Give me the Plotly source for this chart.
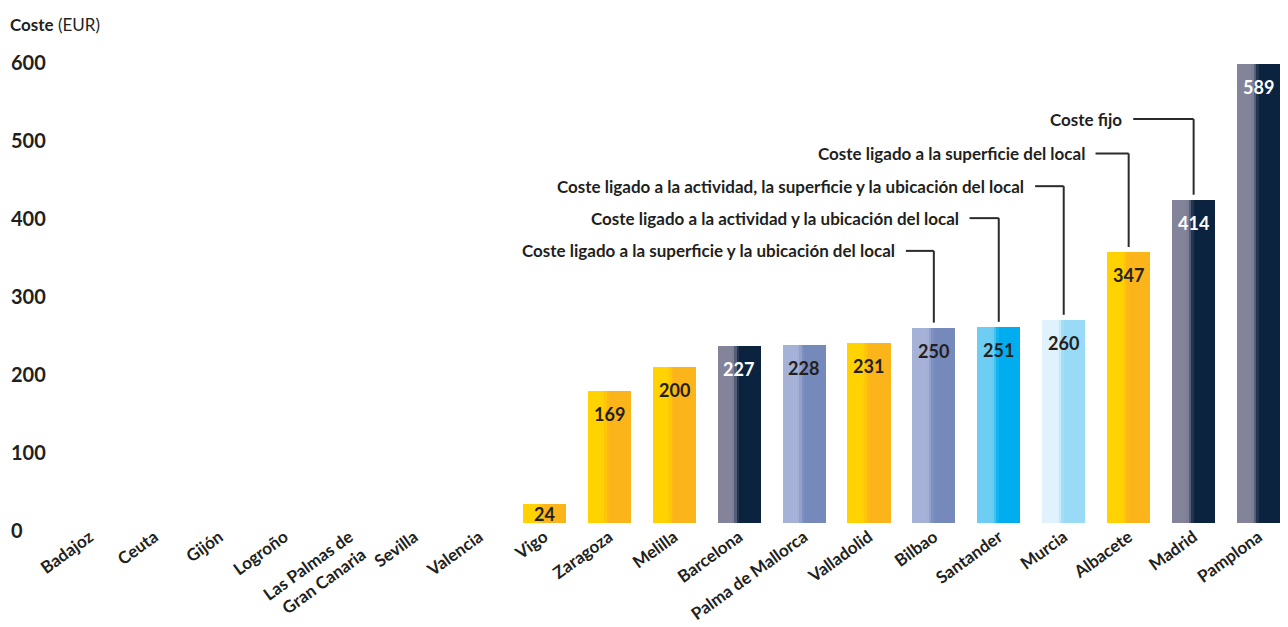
import plotly.graph_objects as go

# data
cities = ['Badajoz', 'Ceuta', 'Gijón', 'Logroño', 'Las Palmas de<br>Gran Canaria', 'Sevilla',
          'Valencia', 'Vigo', 'Zaragoza', 'Melilla', 'Barcelona', 'Palma de Mallorca',
          'Valladolid', 'Bilbao', 'Santander', 'Murcia', 'Albacete', 'Madrid', 'Pamplona']
coste = [0, 0, 0, 0, 0, 0, 0, 24, 169, 200, 227, 228, 231, 250, 251, 260, 347, 414, 589]
tipo = ['', '', '', '', '', '', '', 'sup', 'sup', 'sup', 'fijo', 'sup_ubi', 'sup', 'sup_ubi',
        'act_ubi', 'act_sup_ubi', 'sup', 'fijo', 'fijo']

leyenda = ['Coste fijo', 'Coste ligado a la superficie del local',
           'Coste ligado a la actividad, la superficie y la ubicación del local',
           'Coste ligado a la actividad y la ubicación del local',
           'Coste ligado a la superficie y la ubicación del local']
leyenda_bar = [17, 16, 15, 14, 13]
leyenda_y = [518, 474, 432, 391, 349]
leyenda_x0 = [16.07, 15.49, 14.56, 13.55, 12.57]

# gradient colours (left, right) per cost type
grad = {
    'fijo': ('#83839a', '#0c2340'),
    'sup': ('#ffd200', '#fbb41a'),
    'sup_ubi': ('#a5b1d6', '#7589bb'),
    'act_ubi': ('#6dcdf3', '#00aeef'),
    'act_sup_ubi': ('#e0f2fb', '#99dbf6'),
    '': ('#ffffff', '#ffffff'),
}
text_dark = '#231f20'


def hex_rgb(h):
    return tuple(int(h[i:i + 2], 16) for i in (1, 3, 5))


def mix(c1, c2, s):
    a, b = hex_rgb(c1), hex_rgb(c2)
    return 'rgb(%d,%d,%d)' % tuple(round(a[i] + (b[i] - a[i]) * s) for i in range(3))


def blend(t):
    # sharp-ish transition around 45% of the bar width
    lo, hi = 0.34, 0.52
    if t <= lo:
        return 0.0
    if t >= hi:
        return 1.0
    u = (t - lo) / (hi - lo)
    return u * u * (3 - 2 * u)


x_idx = list(range(len(cities)))
bar_w = 0.66
n_slices = 18
slice_w = bar_w / n_slices

fig = go.Figure()
for k in range(n_slices):
    t = (k + 0.5) / n_slices
    fig.add_trace(go.Bar(
        x=x_idx,
        y=coste,
        width=slice_w * 1.08,
        offset=-bar_w / 2 + k * slice_w,
        marker=dict(color=[mix(grad[tp][0], grad[tp][1], blend(t)) for tp in tipo],
                    line=dict(width=0)),
        hoverinfo='skip',
        showlegend=False,
    ))

# value labels
for i, v in enumerate(coste):
    if v == 0:
        continue
    color = 'white' if tipo[i] == 'fijo' else text_dark
    if v < 60:
        fig.add_annotation(x=i, y=v / 2, text='<b>%d</b>' % v, showarrow=False,
                           yanchor='middle', font=dict(size=18, color=color))
    else:
        fig.add_annotation(x=i, y=v, text='<b>%d</b>' % v, showarrow=False,
                           yanchor='top', yshift=-10, font=dict(size=18, color=color))

# legend labels with connector lines
for lab, b, ly, lx in zip(leyenda, leyenda_bar, leyenda_y, leyenda_x0):
    fig.add_shape(type='line', x0=lx, x1=b, y0=ly, y1=ly,
                  line=dict(color='#2b2b2b', width=2))
    fig.add_shape(type='line', x0=b, x1=b, y0=ly, y1=coste[b] + 7,
                  line=dict(color='#2b2b2b', width=2))
    fig.add_annotation(x=lx, y=ly, text='<b>%s</b>' % lab, showarrow=False,
                       xanchor='right', yanchor='middle', xshift=-9,
                       font=dict(size=17, color=text_dark))

# axis title
fig.add_annotation(xref='paper', yref='paper', x=0, y=1.0, xanchor='left',
                   yanchor='middle', text='<b>Coste</b> (EUR)', showarrow=False,
                   font=dict(size=17, color=text_dark))

# page body keeps an 8px margin, so the figure is sized to fit inside the window
fig.update_layout(
    width=1272,
    height=619,
    margin=dict(l=0, r=0, t=16, b=104, autoexpand=False),
    plot_bgcolor='white',
    paper_bgcolor='white',
    barmode='overlay',
    bargap=0,
    font=dict(family='Lato, Noto Sans, sans-serif', color=text_dark),
    showlegend=False,
)
fig.update_xaxes(
    range=[-1.2548, 18.33],
    tickmode='array',
    tickvals=x_idx,
    ticktext=['<b>%s</b>' % c for c in cities],
    tickangle=-36,
    tickfont=dict(size=17, color=text_dark),
    showgrid=False,
    showline=False,
    zeroline=False,
    ticks='',
    automargin=False,
)
fig.update_yaxes(
    range=[0, 640],
    tickvals=[0, 100, 200, 300, 400, 500, 600],
    ticktext=['<b>%d</b>' % v for v in [0, 100, 200, 300, 400, 500, 600]],
    ticklabelposition='inside',
    ticklabeloverflow='allow',
    ticklabelstandoff=0,
    ticklabelshift=8,
    tickfont=dict(size=20, color=text_dark),
    showgrid=False,
    zeroline=False,
    showline=False,
    ticks='',
    automargin=False,
)

fig.write_html('out.html')
